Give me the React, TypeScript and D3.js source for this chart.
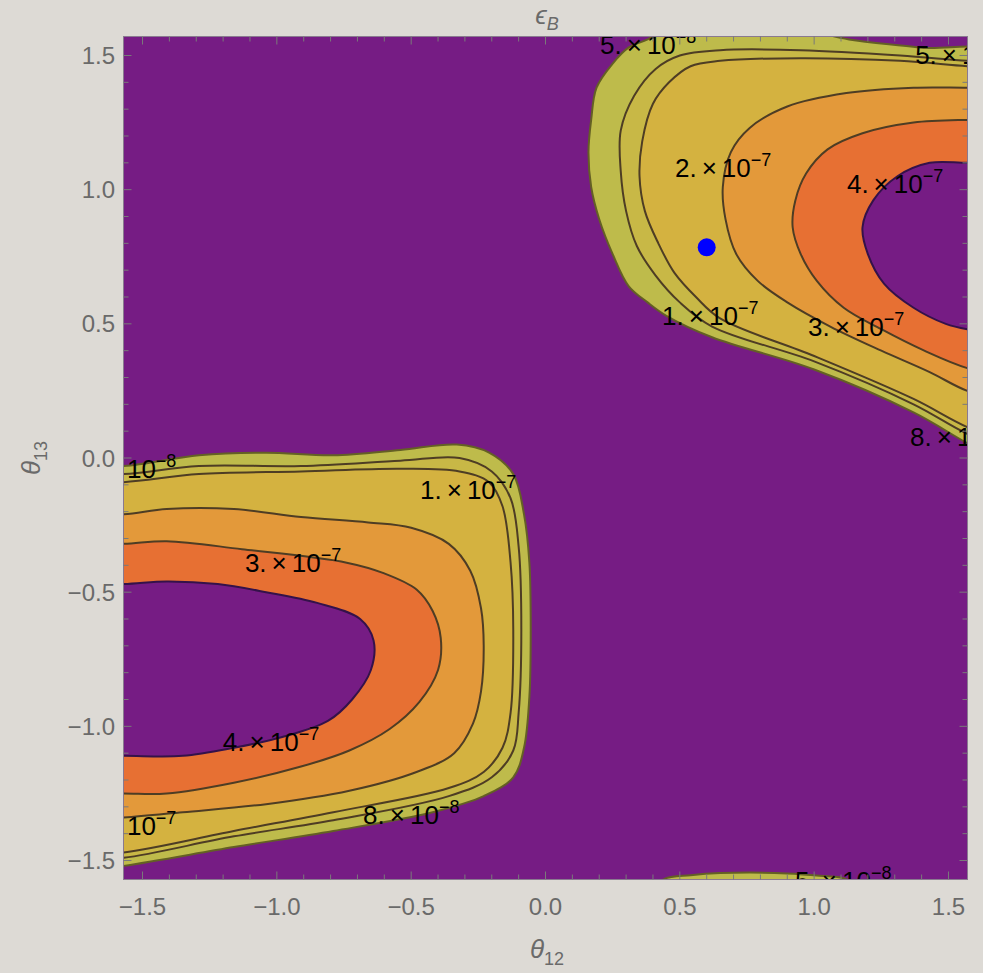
import React from "react";
import * as d3 from "d3";

type Pt = [number, number];

// contour levels (epsilon_B)
const levels = [5e-8, 8e-8, 1e-7, 2e-7, 3e-7, 4e-7];

// ---- contour boundaries, [theta12, theta13] ----
// upper-right lobe
const ur5e8: Pt[] = [[1.75, 1.48], [1.39, 1.53], [1.13, 1.56], [0.95, 1.6], [0.7, 1.63], [0.47, 1.61], [0.38, 1.56], [0.31, 1.53], [0.25, 1.47], [0.19, 1.38], [0.17, 1.26], [0.16, 1.14], [0.17, 1.01], [0.2, 0.89], [0.25, 0.76], [0.31, 0.64], [0.38, 0.58], [0.45, 0.53], [0.62, 0.45], [1.0, 0.33], [1.37, 0.17], [1.57, 0.055], [1.75, -0.04]];
const ur8e8: Pt[] = [[1.75, 1.47], [1.57, 1.48], [1.32, 1.5], [0.95, 1.52], [0.65, 1.52], [0.5, 1.5], [0.41, 1.45], [0.33, 1.35], [0.28, 1.22], [0.28, 1.07], [0.3, 0.92], [0.34, 0.79], [0.41, 0.68], [0.5, 0.58], [0.62, 0.49], [1.0, 0.36], [1.37, 0.2], [1.57, 0.09], [1.75, 0.02]];
const ur1e7: Pt[] = [[1.75, 1.45], [1.57, 1.46], [1.32, 1.48], [0.95, 1.49], [0.65, 1.48], [0.54, 1.46], [0.46, 1.4], [0.4, 1.32], [0.36, 1.18], [0.35, 1.05], [0.37, 0.92], [0.42, 0.8], [0.48, 0.69], [0.56, 0.6], [0.65, 0.52], [1.0, 0.38], [1.37, 0.22], [1.57, 0.115], [1.75, 0.05]];
const ur2e7: Pt[] = [[1.75, 1.38], [1.57, 1.38], [1.37, 1.38], [1.12, 1.36], [0.9, 1.31], [0.76, 1.23], [0.69, 1.14], [0.66, 1.01], [0.67, 0.89], [0.71, 0.76], [0.79, 0.66], [0.9, 0.58], [1.06, 0.49], [1.25, 0.4], [1.43, 0.32], [1.57, 0.25], [1.75, 0.2]];
const ur3e7: Pt[] = [[1.75, 1.26], [1.57, 1.26], [1.37, 1.25], [1.18, 1.21], [1.05, 1.15], [0.97, 1.06], [0.93, 0.96], [0.92, 0.86], [0.95, 0.76], [1.01, 0.66], [1.11, 0.56], [1.25, 0.48], [1.41, 0.4], [1.57, 0.335], [1.75, 0.3]];
const ur4e7: Pt[] = [[1.75, 1.1], [1.57, 1.1], [1.43, 1.1], [1.31, 1.05], [1.22, 0.96], [1.18, 0.86], [1.2, 0.76], [1.26, 0.65], [1.37, 0.56], [1.49, 0.5], [1.57, 0.48], [1.75, 0.46]];

// lower-left lobe
const ll5e8: Pt[] = [[-1.75, -0.03], [-1.57, -0.03], [-1.29, 0.01], [-1.04, 0.02], [-0.79, 0.01], [-0.54, 0.03], [-0.33, 0.05], [-0.21, 0.02], [-0.12, -0.06], [-0.08, -0.21], [-0.06, -0.39], [-0.055, -0.64], [-0.06, -0.89], [-0.08, -1.08], [-0.12, -1.19], [-0.23, -1.26], [-0.42, -1.32], [-0.79, -1.39], [-1.16, -1.45], [-1.57, -1.52], [-1.75, -1.54]];
const ll8e8: Pt[] = [[-1.75, -0.06], [-1.57, -0.06], [-1.29, -0.03], [-0.91, -0.03], [-0.54, -0.01], [-0.32, 0.0], [-0.2, -0.05], [-0.13, -0.15], [-0.1, -0.33], [-0.09, -0.64], [-0.1, -0.95], [-0.12, -1.09], [-0.2, -1.19], [-0.36, -1.26], [-0.79, -1.35], [-1.16, -1.41], [-1.57, -1.49], [-1.75, -1.5]];
const ll1e7: Pt[] = [[-1.75, -0.09], [-1.57, -0.09], [-1.29, -0.06], [-0.91, -0.05], [-0.54, -0.04], [-0.32, -0.05], [-0.21, -0.09], [-0.16, -0.18], [-0.13, -0.39], [-0.12, -0.64], [-0.13, -0.95], [-0.16, -1.08], [-0.23, -1.17], [-0.36, -1.23], [-0.79, -1.32], [-1.16, -1.39], [-1.57, -1.47], [-1.75, -1.48]];
const ll2e7: Pt[] = [[-1.75, -0.21], [-1.57, -0.21], [-1.41, -0.19], [-1.16, -0.19], [-0.91, -0.22], [-0.66, -0.24], [-0.5, -0.26], [-0.36, -0.32], [-0.28, -0.42], [-0.24, -0.56], [-0.23, -0.7], [-0.24, -0.87], [-0.27, -0.99], [-0.34, -1.1], [-0.48, -1.17], [-0.73, -1.24], [-1.04, -1.29], [-1.35, -1.32], [-1.57, -1.34], [-1.75, -1.35]];
const ll3e7: Pt[] = [[-1.75, -0.32], [-1.57, -0.32], [-1.41, -0.31], [-1.13, -0.34], [-0.74, -0.39], [-0.6, -0.43], [-0.48, -0.49], [-0.42, -0.57], [-0.39, -0.67], [-0.4, -0.79], [-0.47, -0.91], [-0.58, -1.01], [-0.73, -1.09], [-0.91, -1.15], [-1.16, -1.21], [-1.41, -1.25], [-1.57, -1.25], [-1.75, -1.25]];
const ll4e7: Pt[] = [[-1.75, -0.47], [-1.57, -0.47], [-1.41, -0.46], [-1.22, -0.47], [-1.04, -0.5], [-0.85, -0.54], [-0.69, -0.6], [-0.64, -0.68], [-0.65, -0.79], [-0.72, -0.9], [-0.81, -0.98], [-0.98, -1.04], [-1.16, -1.08], [-1.35, -1.11], [-1.57, -1.11], [-1.75, -1.11]];

// small bump on bottom edge
const bottom5e8: Pt[] = [[0.39, -1.62], [0.44, -1.57], [0.54, -1.555], [0.65, -1.547], [0.9, -1.548], [1.02, -1.557], [1.12, -1.57], [1.17, -1.62]];

const ringsByLevel: Pt[][][] = [
  [ur5e8, ll5e8, bottom5e8],
  [ur8e8, ll8e8],
  [ur1e7, ll1e7],
  [ur2e7, ll2e7],
  [ur3e7, ll3e7],
  [ur4e7, ll4e7],
];

// contour labels (visible text; the plot frame cuts those at its edges)
const labelMantissa = ["5.", "5.", "2.", "4.", "1.", "3.", "8.", "", "1.", "3.", "4.", "", "8.", "5."];
const labelBase = ["10", "1", "10", "10", "10", "10", "1", "10", "10", "10", "10", "10", "10", "10"];
const labelExponent = ["\u22128", "", "\u22127", "\u22127", "\u22127", "\u22127", "", "\u22128", "\u22127", "\u22127", "\u22127", "\u22127", "\u22128", "\u22128"];
const labelTheta12 = [0.203, 1.376, 0.482, 1.122, 0.434, 0.977, 1.357, -1.558, -0.467, -1.119, -1.201, -1.558, -0.679, 0.929];
const labelTheta13 = [1.54, 1.5, 1.08, 1.02, 0.53, 0.49, 0.08, -0.04, -0.12, -0.39, -1.06, -1.37, -1.33, -1.575];

// marked point
const markTheta12 = 0.6;
const markTheta13 = 0.785;

const majorTicks = [-1.5, -1.0, -0.5, 0.0, 0.5, 1.0, 1.5];
const majorTickLabels = ["\u22121.5", "\u22121.0", "\u22120.5", "0.0", "0.5", "1.0", "1.5"];

// ---- styles ----
const bandFill = ["#bebb4b", "#c8b846", "#d4b240", "#e3993a", "#e77033", "#761c84"];
const lineStroke = ["#646024", "#4e3d24", "#4e3d24", "#4e3d24", "#4e3d24", "#34124a"];
const BASE = "#761c84";
const FONT = "'Liberation Sans', Arial, Helvetica, sans-serif";

export default function App() {
  const W = 983, H = 973;
  const L = 123.5, R = 967.5, T = 36.5, B = 879.5;
  const x = d3.scaleLinear().domain([-Math.PI / 2, Math.PI / 2]).range([L, R]);
  const y = d3.scaleLinear().domain([-Math.PI / 2, Math.PI / 2]).range([B, T]);
  const line = d3
    .line<Pt>()
    .x((d) => x(d[0]))
    .y((d) => y(d[1]))
    .curve(d3.curveCatmullRomClosed.alpha(0.5));

  const minorTicks = d3.range(-15, 16).map((i) => i / 10).filter((v) => Math.abs(v * 2 - Math.round(v * 2)) > 1e-6);

  const tickColor = "#7a7a7a";
  const textColor = "#6a6a6a";

  return (
    <svg width={W} height={H} style={{ position: "absolute", left: 0, top: 0 }} fontFamily={FONT}>
      <defs>
        <clipPath id="plotclip">
          <rect x={L} y={T} width={R - L} height={B - T} />
        </clipPath>
      </defs>
      <rect x={0} y={0} width={W} height={H} fill="#dddad5" />
      <g clipPath="url(#plotclip)">
        <rect x={L} y={T} width={R - L} height={B - T} fill={BASE} />
        {ringsByLevel.map((rings, li) =>
          rings.map((ring, ri) => <path key={`f${li}-${ri}`} d={line(ring) || ""} fill={bandFill[li]} stroke="none" />)
        )}
        {ringsByLevel.map((rings, li) =>
          rings.map((ring, ri) => (
            <path key={`s${li}-${ri}`} d={line(ring) || ""} fill="none" stroke={lineStroke[li]} strokeWidth={2} strokeLinejoin="round" />
          ))
        )}
        {labelBase.map((base, i) => (
          <text key={`lab${i}`} x={x(labelTheta12[i])} y={y(labelTheta13[i]) + 9} fontSize={26} fill="#000">
            {labelMantissa[i] ? (
              <>
                {labelMantissa[i]}
                <tspan dx={5}>×</tspan>
                <tspan dx={5}>{base}</tspan>
              </>
            ) : (
              base
            )}
            {labelExponent[i] ? (
              <tspan dy={-11} fontSize={18}>
                {labelExponent[i]}
              </tspan>
            ) : null}
          </text>
        ))}
        <circle cx={x(markTheta12)} cy={y(markTheta13)} r={9} fill="#0000ff" />
      </g>
      {/* frame */}
      <rect x={L} y={T} width={R - L} height={B - T} fill="none" stroke="#8a7a90" strokeWidth={1} />
      {/* ticks */}
      <g stroke={tickColor} strokeWidth={1}>
        {majorTicks.map((v) => (
          <g key={`M${v}`}>
            <line x1={x(v)} x2={x(v)} y1={B} y2={B - 8} />
            <line x1={x(v)} x2={x(v)} y1={T} y2={T + 8} />
            <line x1={L} x2={L + 8} y1={y(v)} y2={y(v)} />
            <line x1={R} x2={R - 8} y1={y(v)} y2={y(v)} />
          </g>
        ))}
        {minorTicks.map((v) => (
          <g key={`m${v}`}>
            <line x1={x(v)} x2={x(v)} y1={B} y2={B - 5} />
            <line x1={x(v)} x2={x(v)} y1={T} y2={T + 5} />
            <line x1={L} x2={L + 5} y1={y(v)} y2={y(v)} />
            <line x1={R} x2={R - 5} y1={y(v)} y2={y(v)} />
          </g>
        ))}
      </g>
      {/* tick labels */}
      {majorTicks.map((v, i) => (
        <text key={`xl${v}`} x={x(v)} y={B + 35} textAnchor="middle" fontSize={24} fill={textColor}>
          {majorTickLabels[i]}
        </text>
      ))}
      {majorTicks.map((v, i) => (
        <text key={`yl${v}`} x={115} y={y(v) + 8.5} textAnchor="end" fontSize={24} fill={textColor}>
          {majorTickLabels[i]}
        </text>
      ))}
      {/* axis titles */}
      <text x={547} y={958} textAnchor="middle" fontSize={26} fill={textColor}>
        <tspan fontStyle="italic">θ</tspan>
        <tspan fontSize={18} dy={7}>12</tspan>
      </text>
      <text x={547} y={24} textAnchor="middle" fontSize={26} fill={textColor}>
        <tspan fontStyle="italic">ϵ</tspan>
        <tspan fontSize={18} dy={6} fontStyle="italic">B</tspan>
      </text>
      <text transform="translate(40,458) rotate(-90)" textAnchor="middle" fontSize={26} fill={textColor}>
        <tspan fontStyle="italic">θ</tspan>
        <tspan fontSize={18} dy={7}>13</tspan>
      </text>
    </svg>
  );
}
